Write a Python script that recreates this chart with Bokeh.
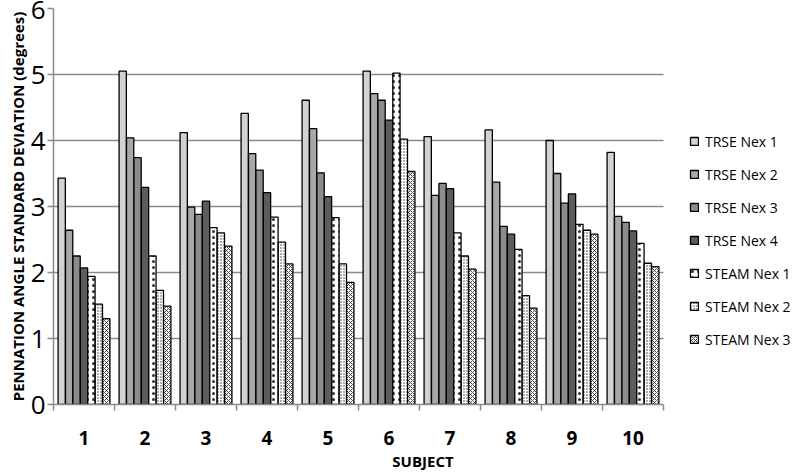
from bokeh.plotting import figure
from bokeh.models import ColumnDataSource, FixedTicker, Legend, LegendItem, Range1d
from bokeh.transform import dodge
from bokeh.embed import file_html
from bokeh.resources import INLINE

subjects = [1, 2, 3, 4, 5, 6, 7, 8, 9, 10]
series_names = ["TRSE Nex 1", "TRSE Nex 2", "TRSE Nex 3", "TRSE Nex 4",
                "STEAM Nex 1", "STEAM Nex 2", "STEAM Nex 3"]
trse_nex1 = [3.43, 5.05, 4.12, 4.41, 4.61, 5.05, 4.06, 4.16, 4.00, 3.82]
trse_nex2 = [2.64, 4.04, 2.99, 3.80, 4.18, 4.71, 3.17, 3.37, 3.50, 2.85]
trse_nex3 = [2.25, 3.74, 2.88, 3.55, 3.51, 4.61, 3.35, 2.70, 3.05, 2.76]
trse_nex4 = [2.07, 3.29, 3.08, 3.21, 3.15, 4.31, 3.27, 2.58, 3.19, 2.63]
steam_nex1 = [1.94, 2.25, 2.68, 2.84, 2.83, 5.02, 2.60, 2.35, 2.73, 2.44]
steam_nex2 = [1.52, 1.73, 2.60, 2.46, 2.13, 4.02, 2.25, 1.65, 2.64, 2.14]
steam_nex3 = [1.30, 1.49, 2.40, 2.13, 1.85, 3.53, 2.05, 1.46, 2.58, 2.09]
y_ticks = [0, 1, 2, 3, 4, 5, 6]

series_values = [trse_nex1, trse_nex2, trse_nex3, trse_nex4,
                 steam_nex1, steam_nex2, steam_nex3]
fill_colors = ["#d2d2d2", "#a8a8a8", "#8c8c8c", "#5c5c5c", "#ffffff", "#ffffff", "#ffffff"]
hatches = [None, None, None, None, "dot", "dot", "diagonal_cross"]
hatch_scales = [6, 6, 6, 6, 6, 3, 4]
hatch_weights = [1, 1, 1, 1, 1.6, 1.2, 0.9]

data = {"subject": subjects}
keys = []
for i, vals in enumerate(series_values):
    k = "s%d" % i
    keys.append(k)
    data[k] = vals
source = ColumnDataSource(data)

W, H = 792, 473
LEFT = 53
x_lo = subjects[0] - 0.5
x_hi_data = subjects[-1] + 0.5
cat_px = 61.0
x_hi = x_lo + (W - LEFT) / cat_px   # extra room on the right for the legend

p = figure(width=W, height=H, x_range=Range1d(x_lo, x_hi), y_range=Range1d(0, 6),
           output_backend="svg", toolbar_location=None,
           min_border_left=LEFT, min_border_right=0, min_border_top=8, min_border_bottom=63)
p.outline_line_color = None
p.background_fill_color = "white"

bw = 0.1218
items = []
for i, k in enumerate(keys):
    off = (i - 3) * bw
    kw = dict(fill_color=fill_colors[i], line_color="black", line_width=1.3)
    if hatches[i]:
        kw.update(hatch_pattern=hatches[i], hatch_color="#333333",
                  hatch_scale=hatch_scales[i], hatch_weight=hatch_weights[i])
    r = p.vbar(x=dodge("subject", off, range=p.x_range), top=k, width=bw * 0.98,
               bottom=0, source=source, **kw)
    items.append(LegendItem(label=series_names[i], renderers=[r]))

# grid
p.xgrid.grid_line_color = None
p.ygrid.grid_line_color = "#8a8a8a"
p.ygrid.grid_line_width = 1.5
p.ygrid.ticker = FixedTicker(ticks=y_ticks)
p.ygrid.cross_bounds = (x_lo, x_hi_data)

# y axis
p.yaxis.ticker = FixedTicker(ticks=y_ticks)
p.yaxis.axis_line_color = "#8a8a8a"
p.yaxis.axis_line_width = 1.5
p.yaxis.major_tick_line_color = "#8a8a8a"
p.yaxis.major_tick_line_width = 1.5
p.yaxis.major_tick_out = 6
p.yaxis.major_tick_in = 0
p.yaxis.minor_tick_line_color = None
p.yaxis.major_label_text_font = "Open Sans"
p.yaxis.major_label_text_font_size = "26px"
p.yaxis.major_label_text_color = "black"
p.yaxis.major_label_standoff = 2
p.yaxis.axis_label = "PENNATION ANGLE STANDARD DEVIATION (degrees)"
p.yaxis.axis_label_text_font = "Open Sans"
p.yaxis.axis_label_text_font_style = "bold"
p.yaxis.axis_label_text_font_size = "15px"
p.yaxis.axis_label_text_color = "black"
p.yaxis.axis_label_standoff = 0

# x axis
minor = [s - 0.5 for s in subjects] + [subjects[-1] + 0.5]
p.xaxis.ticker = FixedTicker(ticks=subjects, minor_ticks=minor)
p.xaxis.bounds = (x_lo, x_hi_data)
p.xaxis.axis_line_color = "#8a8a8a"
p.xaxis.axis_line_width = 1.5
p.xaxis.major_tick_line_color = None
p.xaxis.major_tick_out = 0
p.xaxis.major_tick_in = 0
p.xaxis.minor_tick_line_color = "#8a8a8a"
p.xaxis.minor_tick_line_width = 1.5
p.xaxis.minor_tick_out = 6
p.xaxis.minor_tick_in = 0
p.xaxis.major_label_text_font = "Open Sans"
p.xaxis.major_label_text_font_style = "bold"
p.xaxis.major_label_text_font_size = "19px"
p.xaxis.major_label_text_color = "black"
p.xaxis.major_label_standoff = 20
p.xaxis.axis_label = "SUBJECT"
p.xaxis.axis_label_text_font = "Open Sans"
p.xaxis.axis_label_text_font_style = "bold"
p.xaxis.axis_label_text_font_size = "15px"
p.xaxis.axis_label_text_color = "black"
p.xaxis.axis_label_standoff = 3

legend = Legend(items=items, location=(636, 55), orientation="vertical",
                label_text_font="Open Sans", label_text_font_size="14px",
                label_text_color="black", glyph_width=10, glyph_height=10,
                label_height=20, spacing=13, label_standoff=6,
                padding=0, margin=0, border_line_color=None,
                background_fill_alpha=0)
p.add_layout(legend)

open("out.html", "w").write(file_html(p, INLINE))
